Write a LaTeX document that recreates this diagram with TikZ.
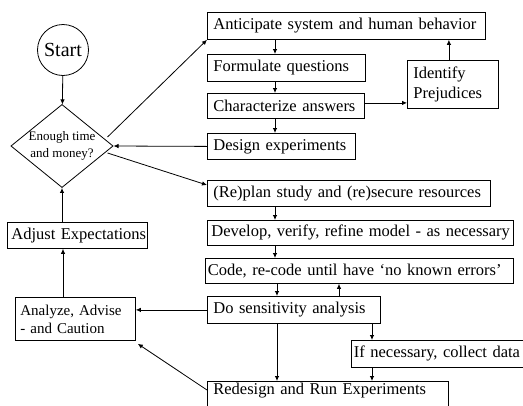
\documentclass[tikz,border=0pt]{standalone}
\usepackage{fontspec}
\setmainfont{Liberation Serif}
\usetikzlibrary{shapes.geometric,arrows.meta}
\begin{document}
\begin{tikzpicture}[x=1pt,y=-1pt,line width=0.8pt,
    blk/.style={draw,anchor=north west,align=left,inner xsep=6pt,inner ysep=0pt,font=\fontsize{16.5}{19}\selectfont},
    arr/.style={-{Latex[length=5pt,width=4.5pt]}}]
  \useasboundingbox (0,0) rectangle (523,405);
  \clip (0,0) rectangle (523,405);
  %\node (name) at (x,y) [blk,text width=w,minimum height=h] {text};
  \node (start) at (63,50) [draw,circle,minimum size=51pt,inner sep=0pt,font=\fontsize{20}{22}\selectfont] {Start};
  \node (dia) at (62,146) [draw,diamond,aspect=1.23,inner sep=0pt,minimum width=101pt,minimum height=82pt,align=center,font=\fontsize{13}{17}\selectfont] {Enough time\\and money?};
  \node (anti) at (207,12) [blk,text width=266pt,minimum height=27pt] {Anticipate system and human behavior};
  \node (form) at (207,54) [blk,text width=146pt,minimum height=27pt] {Formulate questions};
  \node (char) at (207,93) [blk,text width=145pt,minimum height=25pt] {Characterize answers};
  \node (desi) at (207,133) [blk,text width=136pt,minimum height=26pt] {Design experiments};
  \node (iden) at (407,60) [blk,text width=79pt,minimum height=48pt,font=\fontsize{16.5}{20}\selectfont] {Identify\\Prejudices};
  \node (repl) at (207,180) [blk,text width=271pt,minimum height=26pt] {(Re)plan study and (re)secure resources};
  \node (deve) at (207,220) [blk,text width=298pt,minimum height=25pt,inner xsep=4pt] {\mbox{Develop, verify, refine model - as necessary}};
  \node (code) at (205,258) [blk,text width=303pt,minimum height=25pt,inner xsep=2.5pt] {\mbox{Code, re-code until have ‘no known errors’}};
  \node (sens) at (207,296) [blk,text width=161pt,minimum height=27pt] {Do sensitivity analysis};
  \node (ifne) at (351,340) [blk,text width=195pt,minimum height=27pt,inner xsep=2.5pt] {If necessary, collect data};
  \node (rede) at (207,381) [blk,text width=229pt,inner ysep=2pt,text depth=12pt] {Redesign and Run Experiments};
  \node (anal) at (15,297) [blk,text width=110pt,minimum height=43pt,inner xsep=5pt,font=\fontsize{15}{18}\selectfont] {Analyze, Advise\\- and Caution};
  \node (adju) at (7,222) [blk,text width=132pt,minimum height=26pt,inner xsep=4pt] {\mbox{Adjust Expectations}};
  % connectors
  \draw[arr] (start) -- (dia);
  \draw[arr] ([shift={(-6,-9)}]dia.east) -- (anti.south west);
  \draw[arr] ([xshift=68pt]anti.south west) -- ([xshift=68pt]form.north west);
  \draw[arr] ([xshift=68pt]form.south west) -- ([xshift=68pt]char.north west);
  \draw[arr] ([xshift=68pt]char.south west) -- ([xshift=68pt]desi.north west);
  \draw[arr] ([yshift=3pt]char.east) -- ([yshift=3pt]char.east -| iden.west);
  \draw[arr] ([xshift=-4pt]iden.north) -- ([xshift=-4pt]iden.north |- anti.south);
  \draw[arr] (desi.west) -- (dia.east);
  \draw[arr] ([shift={(-6,7)}]dia.east) -- ([yshift=-5pt]repl.north west);
  \draw[arr] ([xshift=68pt]repl.south west) -- ([xshift=68pt]deve.north west);
  \draw[arr] ([xshift=68pt]deve.south west) -- ([xshift=68pt]deve.south west |- code.north);
  \draw[arr] ([xshift=72pt]code.south west) -- ([xshift=72pt]code.south west |- sens.north);
  \draw[arr] ([xshift=132pt]sens.north west) -- ([xshift=132pt]sens.north west |- code.south);
  \draw[arr] ([xshift=70pt]sens.south west) -- ([xshift=70pt]sens.south west |- rede.north);
  \draw[arr] ([xshift=165pt]sens.south west) -- ([xshift=165pt]sens.south west |- ifne.north);
  \draw[arr] ([xshift=21pt]ifne.south west) -- ([xshift=21pt]ifne.south west |- rede.north);
  \draw[arr] (sens.west) -- (sens.west -| anal.east);
  \draw[arr] ([yshift=-9pt]rede.north west) -- ([shift={(2,3)}]anal.south east);
  \draw[arr] ([xshift=48pt]anal.north west) -- ([xshift=48pt]anal.north west |- adju.south);
  \draw[arr] (adju.north -| dia.south) -- (dia.south);
\end{tikzpicture}
\end{document}
